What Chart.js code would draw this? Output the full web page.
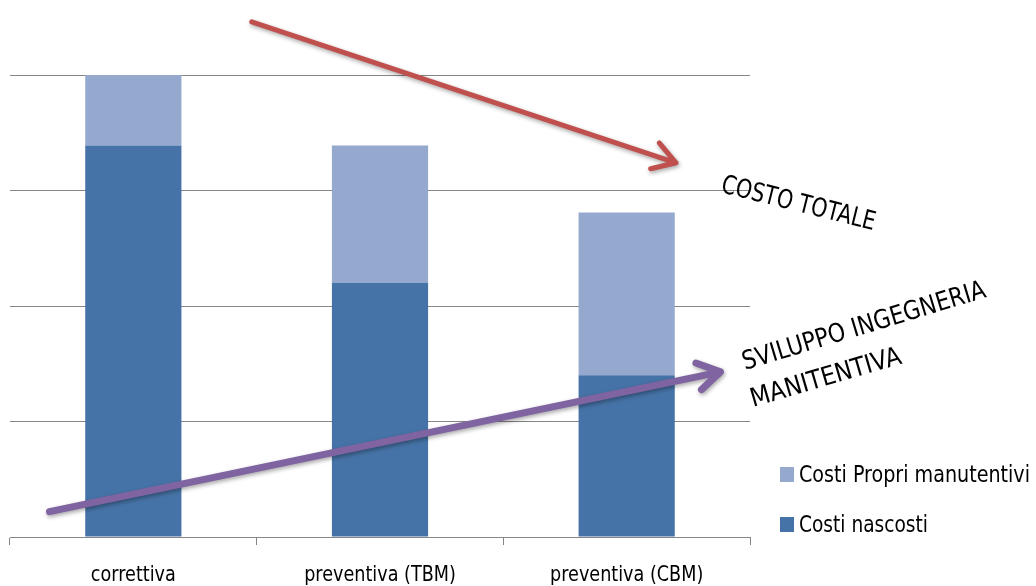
<!DOCTYPE html>
<html>
<head>
<meta charset="utf-8">
<script src="https://cdn.jsdelivr.net/npm/chart.js@4.4.1/dist/chart.umd.min.js"></script>
<style>
  html, body { margin: 0; padding: 0; background: #ffffff; }
  #wrap { width: 1036px; height: 586px; position: relative; }
</style>
</head>
<body>
<div id="wrap"><canvas id="costChart"></canvas></div>
<script>
const categories = ['correttiva', 'preventiva (TBM)', 'preventiva (CBM)'];
const costiNascosti = [3.39, 2.2, 1.4];
const costiPropri = [0.61, 1.19, 1.41];
const seriesNames = ['Costi nascosti', 'Costi Propri manutentivi'];
const seriesColors = ['#4673A7', '#95A9CF'];
const FONT = '"DejaVu Sans Condensed", "Liberation Sans Narrow", "Open Sans", sans-serif';

// frecce, in unità delle scale (x = indice categoria, y = valore)
const arrows = [
    { from: [0.48, 4.46], to: [2.20, 3.24], color: '#C0504D', width: 5 },
    { from: [-0.34, 0.22], to: [2.38, 1.43], color: '#8064A2', width: 7 }
];

// testo "stretto": scala orizzontale fino alla larghezza voluta
function narrowText(ctx, text, x, y, deg, size, width, align) {
    ctx.save();
    ctx.font = size + 'px ' + FONT;
    const w = ctx.measureText(text).width;
    const sx = width / w;
    ctx.translate(x, y);
    ctx.rotate(deg * Math.PI / 180);
    ctx.scale(sx, 1);
    ctx.fillStyle = '#000000';
    ctx.textBaseline = 'alphabetic';
    ctx.textAlign = align || 'left';
    ctx.fillText(text, 0, 0);
    ctx.restore();
}

const overlayPlugin = {
    id: 'overlay',
    afterDatasetsDraw(chart) {
        const ctx = chart.ctx;
        const xs = chart.scales.x, ys = chart.scales.y;
        const px = v => xs.getPixelForValue(0) + v * (xs.getPixelForValue(1) - xs.getPixelForValue(0));

        arrows.forEach(a => {
            const x1 = px(a.from[0]), y1 = ys.getPixelForValue(a.from[1]);
            const x2 = px(a.to[0]), y2 = ys.getPixelForValue(a.to[1]);
            const ang = Math.atan2(y2 - y1, x2 - x1);
            const head = 26;
            ctx.save();
            ctx.strokeStyle = a.color;
            ctx.lineWidth = a.width;
            ctx.lineCap = 'round';
            ctx.lineJoin = 'round';
            ctx.shadowColor = 'rgba(0,0,0,0.35)';
            ctx.shadowBlur = 4;
            ctx.shadowOffsetX = 1;
            ctx.shadowOffsetY = 2;
            ctx.beginPath();
            ctx.moveTo(x1, y1);
            ctx.lineTo(x2, y2);
            ctx.moveTo(x2 - head * Math.cos(ang - 0.55), y2 - head * Math.sin(ang - 0.55));
            ctx.lineTo(x2, y2);
            ctx.lineTo(x2 - head * Math.cos(ang + 0.55), y2 - head * Math.sin(ang + 0.55));
            ctx.stroke();
            ctx.restore();
        });

        // etichette categorie
        categories.forEach((c, i) => {
            const size = 22;
            ctx.save();
            ctx.font = size + 'px ' + FONT;
            const w = ctx.measureText(c).width * 0.89;
            ctx.restore();
            narrowText(ctx, c, xs.getPixelForValue(i), 581, 0, size, w, 'center');
        });

        // scritte ruotate
        narrowText(ctx, 'COSTO TOTALE', 720, 192, 14, 26, 158);
        narrowText(ctx, 'SVILUPPO INGEGNERIA', 745, 370, -16.8, 26, 253);
        narrowText(ctx, 'MANITENTIVA', 753, 407, -16.3, 26, 156);

        // legenda (ordine inverso come nell'originale)
        const ds = chart.data.datasets;
        const widths = { 'Costi Propri manutentivi': 231, 'Costi nascosti': 129 };
        [1, 0].forEach((i, k) => {
            const top = 467 + k * 50;
            ctx.fillStyle = ds[i].backgroundColor;
            ctx.fillRect(780, top, 14, 15);
            narrowText(ctx, ds[i].label, 799, top + 15, 0, 23, widths[ds[i].label]);
        });
    }
};

const chart = new Chart(document.getElementById('costChart').getContext('2d'), {
    type: 'bar',
    data: {
        labels: categories,
        datasets: [
            { label: seriesNames[0], data: costiNascosti, backgroundColor: seriesColors[0] },
            { label: seriesNames[1], data: costiPropri, backgroundColor: seriesColors[1] }
        ]
    },
    options: {
        responsive: true,
        maintainAspectRatio: false,
        animation: false,
        layout: { padding: { left: 10, right: 286, top: 75, bottom: 41 } },
        plugins: { legend: { display: false }, tooltip: { enabled: false } },
        datasets: { bar: { categoryPercentage: 1, barPercentage: 0.39 } },
        scales: {
            x: {
                stacked: true,
                grid: { drawOnChartArea: false, drawTicks: true, tickLength: 8, color: '#868686', offset: true },
                border: { display: true, color: '#868686', width: 1 },
                ticks: { display: false }
            },
            y: {
                stacked: true,
                min: 0,
                max: 4,
                ticks: { display: false, stepSize: 1 },
                grid: { color: '#868686', drawTicks: false, lineWidth: 1 },
                border: { display: false }
            }
        }
    },
    plugins: [overlayPlugin]
});
</script>
</body>
</html>
